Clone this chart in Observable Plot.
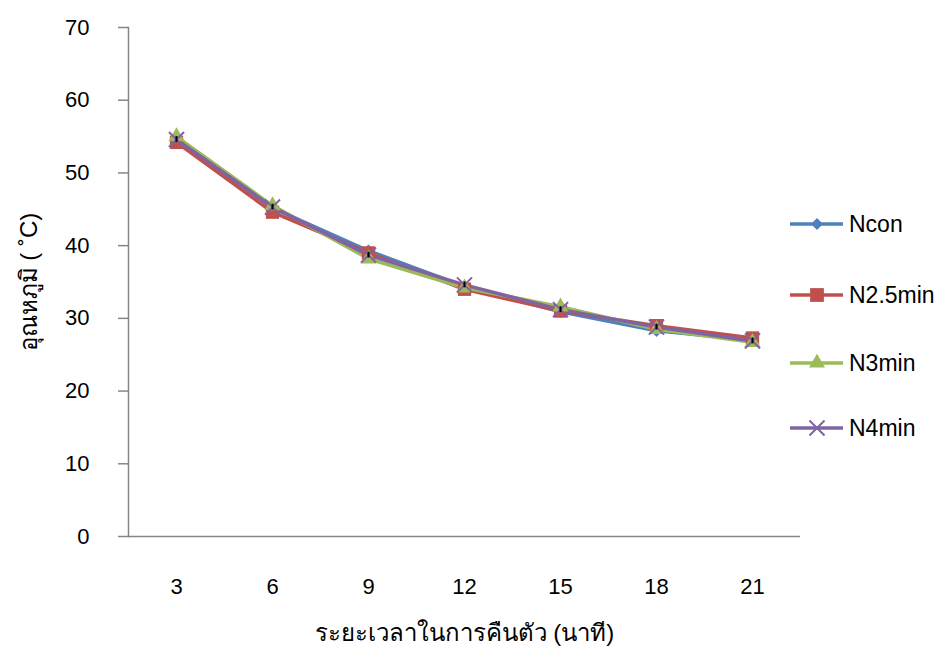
<!DOCTYPE html>
<html>
<head>
<meta charset="utf-8">
<script src="https://cdn.jsdelivr.net/npm/d3@7"></script>
<script src="https://cdn.jsdelivr.net/npm/@observablehq/plot@0.6"></script>
<style>
  html, body { margin: 0; padding: 0; background: #fff; }
  #wrap { position: relative; width: 944px; height: 660px; font-family: "Liberation Sans", Arial, sans-serif; }
  #legend { position: absolute; left: 788px; top: 207px; }
  .item { display: flex; align-items: center; height: 34px; font-size: 23px; color: #000; }
  .item svg { margin-right: 3px; }
</style>
</head>
<body>
<div id="wrap"></div>
<script>
const times = ["3", "6", "9", "12", "15", "18", "21"];
const seriesNames = ["Ncon", "N2.5min", "N3min", "N4min"];
const colors = ["#4F81BD", "#C0504D", "#9BBB59", "#8064A2"];
const symbols = ["diamond2", "square", "triangle", "times"];
const ncon = [54.5, 45.2, 39.3, 34.4, 30.9, 28.3, 27.0];
const n25 = [54.2, 44.6, 39.0, 34.0, 31.0, 29.0, 27.3];
const n3 = [55.0, 45.5, 38.2, 34.2, 31.6, 28.5, 26.7];
const n4 = [54.6, 45.3, 38.7, 34.6, 31.2, 28.8, 26.9];
const n4err = [0.4, 0.4, 0.4, 0.4, 0.4, 0.4, 0.4];
const yTicks = [0, 10, 20, 30, 40, 50, 60, 70];
const xTitle = "ระยะเวลาในการคืนตัว (นาที)";
const yTitle = "อุณหภูมิ ( ˚C)";

const allValues = [ncon, n25, n3, n4];
const rows = [];
allValues.forEach((vals, s) => vals.forEach((v, i) => rows.push({series: seriesNames[s], time: times[i], value: v})));
const errRows = n4.map((v, i) => ({time: times[i], lo: v - n4err[i], hi: v + n4err[i]}));

const font = "Liberation Sans, Arial, sans-serif";
const marks = [
  Plot.ruleY([0], {stroke: "#868686", strokeWidth: 1.5}),
  Plot.frame({anchor: "left", stroke: "#868686", strokeWidth: 1.5}),
  Plot.axisY({ticks: yTicks, tickSize: 10, tickPadding: 29, fontSize: 22, stroke: "#868686", strokeWidth: 1.5, label: null, color: "#000"}),
  Plot.axisX({tickSize: 0, tickPadding: 42, fontSize: 22, label: null}),
];
seriesNames.forEach((name, s) => {
  const data = rows.filter(d => d.series === name);
  marks.push(Plot.line(data, {x: "time", y: "value", stroke: colors[s], strokeWidth: 3.5}));
});
seriesNames.forEach((name, s) => {
  const data = rows.filter(d => d.series === name);
  const sym = symbols[s];
  if (sym === "times") {
    marks.push(Plot.dot(data, {x: "time", y: "value", symbol: sym, stroke: colors[s], strokeWidth: 2, r: 6.9}));
  } else if (sym === "diamond2") {
    marks.push(Plot.dot(data, {x: "time", y: "value", symbol: sym, fill: colors[s], stroke: colors[s], strokeWidth: 0.5, r: 5.4}));
  } else if (sym === "square") {
    marks.push(Plot.dot(data, {x: "time", y: "value", symbol: sym, fill: colors[s], r: 7.5}));
  } else {
    marks.push(Plot.dot(data, {x: "time", y: "value", symbol: sym, fill: colors[s], r: 6}));
  }
});
marks.push(Plot.ruleX(errRows, {x: "time", y1: "lo", y2: "hi", stroke: "#000", strokeWidth: 2}));
marks.push(Plot.text([xTitle], {frameAnchor: "bottom", dy: 104, fontSize: 24, fill: "#000"}));
marks.push(Plot.text([yTitle], {frameAnchor: "left", textAnchor: "middle", dx: -99, rotate: -90, fontSize: 24, fill: "#000"}));

const chart = Plot.plot({
  width: 944,
  height: 660,
  marginLeft: 128,
  marginRight: 144,
  marginTop: 27,
  marginBottom: 124,
  style: {fontFamily: font, fontSize: "22px", color: "#000", background: "#fff"},
  x: {type: "point", domain: times, padding: 0.5},
  y: {domain: [0, 70]},
  marks
});
const wrap = document.getElementById("wrap");
wrap.appendChild(chart);

// legend
const legend = document.createElement("div");
legend.id = "legend";
const gaps = [0, 37, 34, 31];
seriesNames.forEach((name, s) => {
  const item = document.createElement("div");
  item.className = "item";
  item.style.marginTop = gaps[s] + "px";
  const svg = d3.create("svg").attr("width", 58).attr("height", 20);
  svg.append("line").attr("x1", 2).attr("x2", 55).attr("y1", 10).attr("y2", 10).attr("stroke", colors[s]).attr("stroke-width", 3.5);
  const sym = symbols[s];
  const g = svg.append("g").attr("transform", "translate(29,10)");
  if (sym === "diamond2") g.append("path").attr("d", d3.symbol(d3.symbolDiamond2, 92)()).attr("fill", colors[s]);
  else if (sym === "square") g.append("path").attr("d", d3.symbol(d3.symbolSquare, 190)()).attr("fill", colors[s]);
  else if (sym === "triangle") g.append("path").attr("d", d3.symbol(d3.symbolTriangle, 110)()).attr("fill", colors[s]);
  else g.append("path").attr("d", d3.symbol(d3.symbolTimes, 150)()).attr("fill", "none").attr("stroke", colors[s]).attr("stroke-width", 2);
  item.appendChild(svg.node());
  const span = document.createElement("span");
  span.textContent = name;
  item.appendChild(span);
  legend.appendChild(item);
});
wrap.appendChild(legend);
</script>
</body>
</html>
